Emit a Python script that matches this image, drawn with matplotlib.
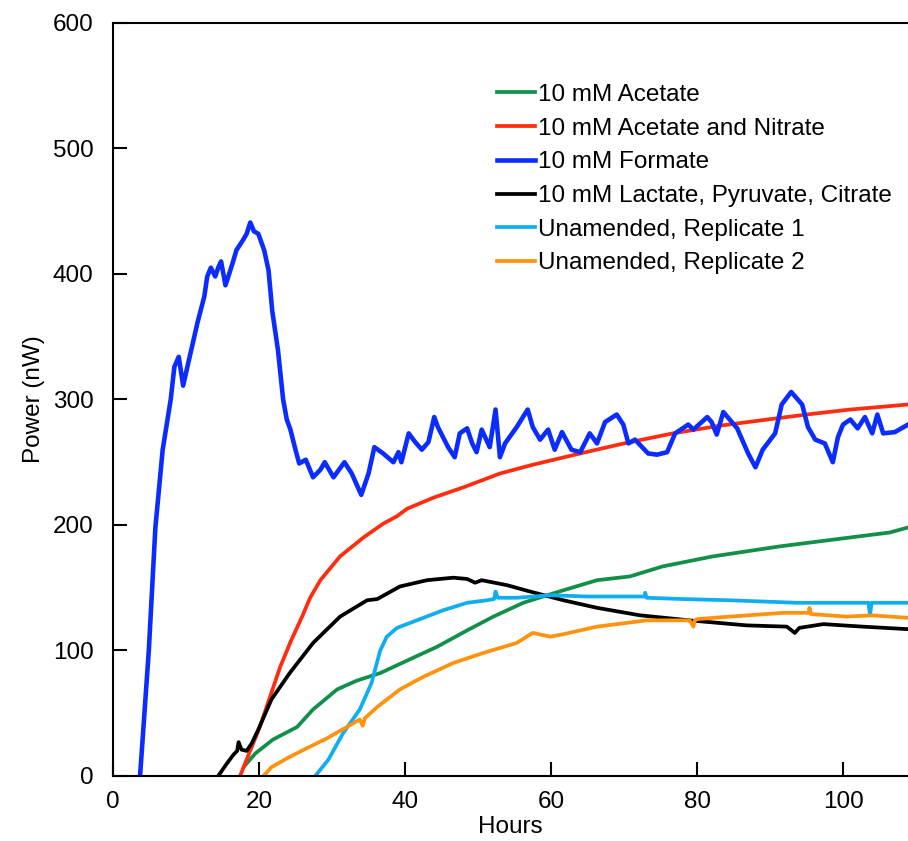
import matplotlib
matplotlib.use("Agg")
import matplotlib.pyplot as plt

plt.rcParams['font.family'] = ['Liberation Sans', 'DejaVu Sans']

# ---- data ----
formate_h = [3.7, 4.9, 5.8, 6.8, 7.9, 8.4, 9.0, 9.6, 10.3, 11.6,
             12.5, 12.9, 13.4, 14.0, 14.4, 14.8, 15.4, 16.4, 16.9, 17.8,
             18.3, 18.8, 19.3, 19.9, 20.7, 21.3, 21.8, 22.6, 23.3, 23.8,
             24.3, 24.9, 25.5, 26.4, 27.4, 28.4, 29.0, 30.2, 31.7, 32.7,
             34.0, 35.0, 35.8, 37.0, 38.4, 39.1, 39.5, 40.5, 41.4, 42.3,
             43.2, 44.0, 44.5, 45.9, 46.8, 47.5, 48.5, 49.2, 49.8, 50.5,
             51.6, 52.4, 53.0, 53.7, 55.3, 56.8, 57.5, 58.5, 59.6, 60.5,
             61.5, 62.8, 64.0, 65.3, 66.3, 67.4, 69.0, 69.9, 70.6, 71.5,
             73.3, 74.5, 75.9, 77.0, 78.8, 79.5, 81.4, 82.0, 82.7, 83.6,
             85.5, 87.0, 88.0, 89.0, 90.7, 91.6, 92.9, 94.4, 95.2, 96.2,
             97.5, 98.6, 99.3, 100.0, 101.0, 102.0, 103.0, 104.0, 104.7, 105.5,
             107.1, 108.9]
formate_p = [0, 100, 198, 260, 300, 326, 334, 311, 329, 362,
             382, 398, 405, 398, 405, 410, 391, 409, 419, 427,
             432, 441, 434, 432, 419, 403, 371, 339, 300, 284,
             276, 262, 249, 252, 238, 244, 250, 238, 250, 241,
             224, 241, 262, 257, 250, 258, 250, 273, 266, 260,
             266, 286, 278, 262, 254, 273, 277, 265, 258, 276,
             262, 292, 254, 265, 278, 292, 278, 268, 276, 260,
             274, 260, 258, 273, 265, 282, 288, 280, 265, 268,
             257, 256, 258, 273, 280, 276, 286, 282, 272, 290,
             277, 257, 246, 260, 273, 296, 306, 296, 278, 268,
             265, 250, 270, 280, 284, 277, 286, 273, 288, 273,
             274, 280]

red_h = [17.4, 18.5, 20.1, 21.5, 22.9, 24.4, 25.9, 27.0, 28.4, 31.1,
         34.3, 37.0, 38.9, 40.3, 44.0, 48.0, 53.0, 57.5, 64.0, 70.0,
         76.7, 83.0, 89.6, 95.0, 101.0, 105.0, 108.9]
red_p = [0, 16, 39, 63, 87, 108, 127, 142, 156, 175,
         190, 201, 207, 213, 222, 230, 241, 248, 257, 265,
         273, 279, 284, 288, 292, 294, 296]

black_h = [14.4, 15.6, 16.5, 17.0, 17.2, 17.6, 18.3, 19.0, 19.9, 21.7,
           24.2, 27.4, 31.1, 34.8, 36.2, 39.3, 43.0, 46.6, 48.5, 49.6,
           50.5, 54.0, 57.1, 61.7, 66.3, 72.2, 79.0, 86.8, 92.3, 93.4,
           94.0, 97.3, 102.7, 108.9]
black_p = [0, 10, 17, 20, 27, 21, 20, 26, 37, 61,
           82, 106, 127, 140, 141, 151, 156, 158, 157, 154,
           156, 152, 147, 140, 134, 128, 124, 120, 119, 114,
           118, 121, 119, 117]

green_h = [18.0, 19.5, 21.9, 25.2, 27.4, 30.7, 33.4, 36.6, 40.3, 44.4,
           48.5, 52.1, 56.2, 58.9, 61.7, 66.3, 70.8, 75.3, 82.2, 91.4,
           98.2, 106.4, 108.9]
green_p = [8, 18, 29, 39, 53, 69, 76, 82, 92, 103,
           116, 127, 138, 143, 148, 156, 159, 167, 175, 183,
           188, 194, 198]

cyan_h = [27.7, 29.5, 31.5, 33.8, 35.4, 36.6, 37.5, 38.9, 41.6, 45.2,
          48.5, 51.2, 52.2, 52.4, 52.7, 55.3, 59.9, 65.0, 71.0, 72.8,
          72.9, 73.1, 78.0, 84.5, 93.7, 103.5, 103.7, 103.9, 108.9]
cyan_p = [0, 13, 34, 53, 74, 100, 111, 118, 124, 132,
          138, 140, 141, 147, 142, 142, 144, 143, 143, 143,
          146, 142, 141, 140, 138, 138, 128, 138, 138]

orange_h = [20.6, 21.7, 23.8, 26.5, 29.3, 32.0, 33.8, 34.2, 34.5, 36.2,
            39.3, 42.5, 46.6, 50.7, 55.3, 57.5, 59.9, 61.7, 66.3, 73.1,
            79.0, 79.5, 79.7, 80.0, 84.5, 91.8, 95.3, 95.4, 95.6, 100.5,
            104.0, 108.9]
orange_p = [0, 7, 14, 22, 30, 39, 45, 40, 46, 55,
            69, 79, 90, 98, 106, 114, 111, 113, 119, 124,
            124, 119, 124, 125, 127, 130, 130, 134, 129, 127,
            128, 126]

labels = ["10 mM Acetate", "10 mM Acetate and Nitrate", "10 mM Formate",
          "10 mM Lactate, Pyruvate, Citrate", "Unamended, Replicate 1",
          "Unamended, Replicate 2"]
colors = ["#12904A", "#FF2D10", "#0B2CFF", "#000000", "#10AEEE", "#FF930F"]

series = [(green_h, green_p), (red_h, red_p), (formate_h, formate_p),
          (black_h, black_p), (cyan_h, cyan_p), (orange_h, orange_p)]

fig = plt.figure(figsize=(9.08, 8.41), dpi=100)
ax = fig.add_axes([0.1245, 0.0773, 0.8755, 0.8954])

for (h, p), lab, col in zip(series, labels, colors):
    lw = 3.3 if col == "#0B2CFF" else 2.7
    ax.plot(h, p, color=col, lw=lw, label=lab, solid_joinstyle='round')

ax.set_xlim(0, 108.9)
ax.set_ylim(0, 600)
ax.set_xticks([0, 20, 40, 60, 80, 100])
ax.set_yticks([0, 100, 200, 300, 400, 500, 600])
ax.spines['right'].set_visible(False)
for s in ['left', 'top', 'bottom']:
    ax.spines[s].set_linewidth(1.5)
ax.tick_params(direction='in', length=10, width=1.5, labelsize=17.5)
ax.tick_params(axis='y', pad=14)
ax.tick_params(axis='x', pad=11)
ax.set_xlabel("Hours", fontsize=17.5, labelpad=2)
ax.set_ylabel("Power (nW)", fontsize=17.5, labelpad=6)

ax.legend(loc='upper left', bbox_to_anchor=(0.483, 0.919), frameon=False,
          fontsize=17.5, handlelength=1.55, handletextpad=0.12,
          borderpad=0, borderaxespad=0, labelspacing=0.48)

fig.savefig("out.png", dpi=100)
